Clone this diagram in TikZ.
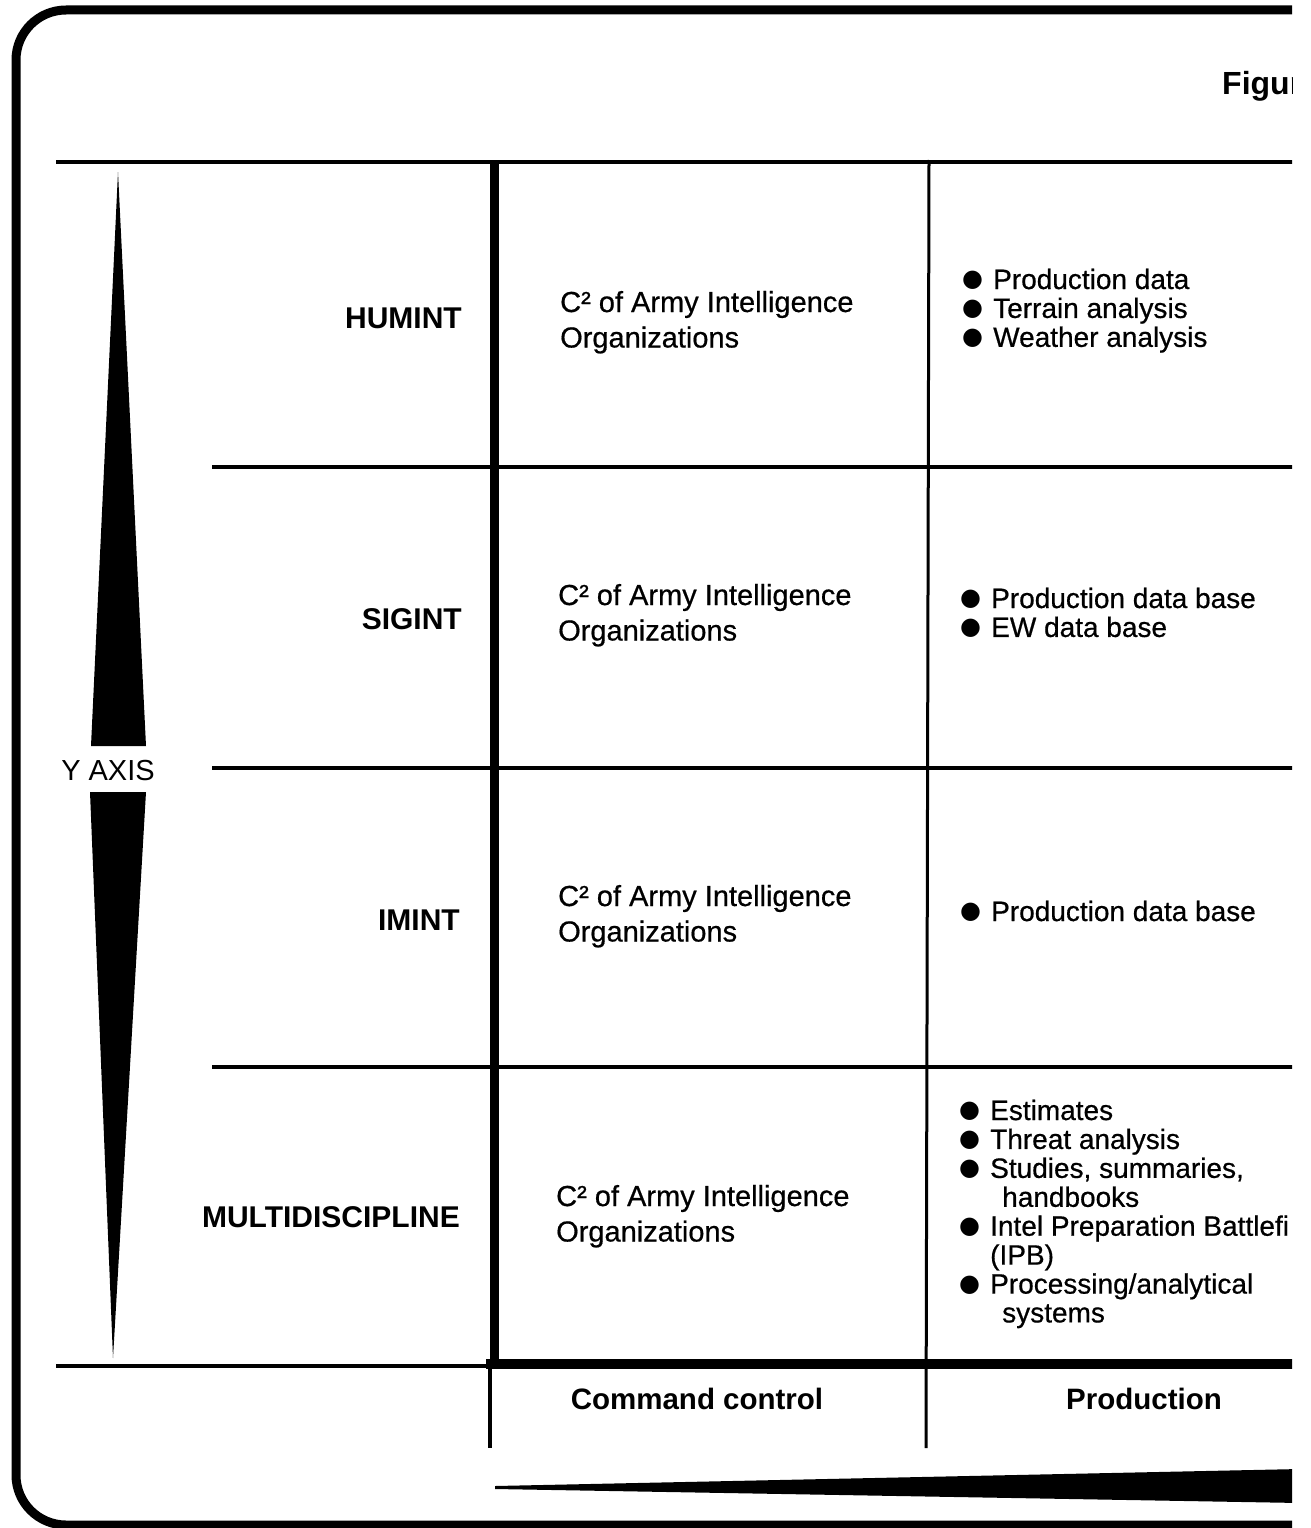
\documentclass[tikz,border=0pt]{standalone}
\usepackage{fontspec}
\setmainfont{Liberation Sans}
\newfontfamily\medium{Liberation Sans}[FakeBold=0.6]
\newfontfamily\symfont{DejaVu Sans}
\newcommand\bul{\makebox[31bp][l]{\raisebox{2.5bp}{\symfont\fontsize{24bp}{24bp}\selectfont ●}}}
\begin{document}
\begin{tikzpicture}[x=1bp,y=-1bp,
  lbl/.style={font=\fontsize{30bp}{32bp}\selectfont\bfseries, inner sep=0, anchor=base east},
  cell/.style={font=\medium\fontsize{29bp}{35.5bp}\selectfont, inner sep=0, anchor=base west},
  blist/.style={font=\medium\fontsize{28bp}{28.8bp}\selectfont, inner sep=0, anchor=base west},
  foot/.style={font=\fontsize{29.5bp}{31bp}\selectfont\bfseries, inner sep=0, anchor=base},
  rule/.style={line width=4bp},
  axisfill/.style={fill=black}]
\useasboundingbox (0,0) rectangle (1311,1528);
\begin{scope}
\clip (0,0) rectangle (1292,1528);
% frame
\draw[line width=9bp, rounded corners=50bp] (1300,10) -- (16,10) -- (16,1525) -- (1300,1525);
% title
\node[font=\fontsize{32bp}{34bp}\selectfont\bfseries, inner sep=0, anchor=base west] (title) at (1222,95) {Figur};
% table rules
\draw[rule] (56,162) -- (1300,162);
\draw[rule] (212,467) -- (1300,467);
\draw[rule] (212,768) -- (1300,768);
\draw[rule] (212,1067) -- (1300,1067);
\draw[rule] (56,1366) -- (490,1366);
\draw[line width=10bp] (486,1364) -- (1300,1364);
\draw[line width=9bp] (494,160) -- (494,1364);
\draw[line width=4bp] (490,1364) -- (490,1448);
\draw[line width=3bp] (929,160) -- (926,1448);
% Y axis
\fill[axisfill] (118,172) -- (146,746) -- (91,746) -- cycle;
\fill[axisfill] (90,792) -- (146,792) -- (113,1358) -- cycle;
\node[font=\fontsize{29bp}{30bp}\selectfont, inner sep=0, anchor=base] (yaxis) at (108,780) {Y AXIS};
% X axis wedge
\fill[axisfill] (495,1486) -- (1300,1469) -- (1300,1503) -- (495,1489) -- cycle;
% row labels
\node[lbl] (humint) at (462,328) {HUMINT};
\node[lbl] (sigint) at (462,629) {SIGINT};
\node[lbl] (imint) at (460,930) {IMINT};
\node[lbl] (multi) at (460,1227) {MULTIDISCIPLINE};
% command control column
\node[cell] (c1) at (560,312) {\begin{tabular}[t]{@{}l@{}}C² of Army Intelligence\\Organizations\end{tabular}};
\node[cell] (c2) at (558,605) {\begin{tabular}[t]{@{}l@{}}C² of Army Intelligence\\Organizations\end{tabular}};
\node[cell] (c3) at (558,906) {\begin{tabular}[t]{@{}l@{}}C² of Army Intelligence\\Organizations\end{tabular}};
\node[cell] (c4) at (556,1206) {\begin{tabular}[t]{@{}l@{}}C² of Army Intelligence\\Organizations\end{tabular}};
% production column
\node[blist] (p1) at (962,289) {\begin{tabular}[t]{@{}l@{}}\bul Production data\\\bul Terrain analysis\\\bul Weather analysis\end{tabular}};
\node[blist] (p2) at (960,608) {\begin{tabular}[t]{@{}l@{}}\bul Production data base\\\bul EW data base\end{tabular}};
\node[blist] (p3) at (960,921) {\begin{tabular}[t]{@{}l@{}}\bul Production data base\end{tabular}};
\node[blist] (p4) at (959,1120) {\begin{tabular}[t]{@{}l@{}}\bul Estimates\\\bul Threat analysis\\\bul Studies, summaries,\\\hspace{43bp}handbooks\\\bul Intel Preparation Battlefi\\\hspace{31bp}(IPB)\\\bul Processing/analytical\\\hspace{43bp}systems\end{tabular}};
% footer labels
\node[foot] (cc) at (697,1409) {Command control};
\node[foot] (prod) at (1144,1409) {Production};
\end{scope}
\end{tikzpicture}
\end{document}
